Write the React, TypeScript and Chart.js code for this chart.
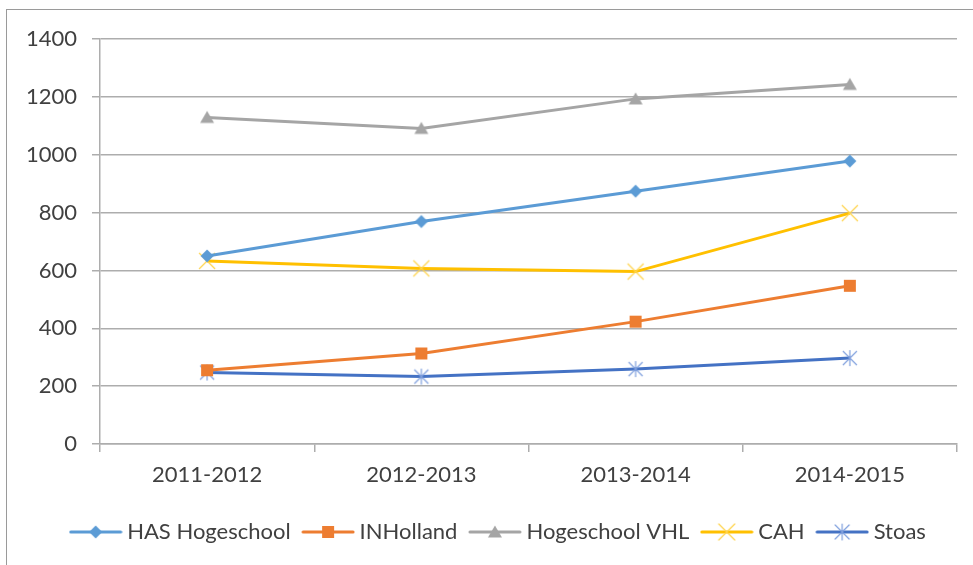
import React, { useEffect, useRef } from 'react';
import { Chart, registerables } from 'chart.js';

Chart.register(...registerables);

const categories = ['2011-2012', '2012-2013', '2013-2014', '2014-2015'];
const seriesNames = ['HAS Hogeschool', 'INHolland', 'Hogeschool VHL', 'CAH', 'Stoas'];
const hasHogeschool = [650, 769, 874, 978];
const inHolland = [255, 313, 423, 547];
const hogeschoolVHL = [1129, 1091, 1193, 1243];
const cah = [633, 607, 596, 798];
const stoas = [247, 233, 259, 297];
const yMin = 0;
const yMax = 1400;
const yStep = 200;

const colors = ['#5B9BD5', '#ED7D31', '#A5A5A5', '#FFC000', '#4472C4'];
const markerColors = ['#5B9BD5', '#ED7D31', '#A5A5A5', '#FFD44D', '#7F9FDD'];
const markers = ['diamond', 'square', 'triangle', 'cross', 'star'];

function drawMarker(ctx: CanvasRenderingContext2D, kind: string, cx: number, cy: number, color: string) {
  ctx.save();
  ctx.fillStyle = color;
  ctx.strokeStyle = color;
  ctx.beginPath();
  if (kind === 'diamond') {
    const r = 6.5;
    ctx.moveTo(cx, cy - r);
    ctx.lineTo(cx + r, cy);
    ctx.lineTo(cx, cy + r);
    ctx.lineTo(cx - r, cy);
    ctx.closePath();
    ctx.fill();
  } else if (kind === 'square') {
    const s = 6;
    ctx.rect(cx - s, cy - s, 2 * s, 2 * s);
    ctx.fill();
  } else if (kind === 'triangle') {
    ctx.moveTo(cx, cy - 6.5);
    ctx.lineTo(cx + 7, cy + 5.5);
    ctx.lineTo(cx - 7, cy + 5.5);
    ctx.closePath();
    ctx.fill();
  } else if (kind === 'cross') {
    const r = 8;
    ctx.lineWidth = 1.2;
    ctx.moveTo(cx - r, cy - r);
    ctx.lineTo(cx + r, cy + r);
    ctx.moveTo(cx + r, cy - r);
    ctx.lineTo(cx - r, cy + r);
    ctx.stroke();
  } else if (kind === 'star') {
    const r = 7;
    ctx.lineWidth = 1.2;
    ctx.moveTo(cx - r, cy - r);
    ctx.lineTo(cx + r, cy + r);
    ctx.moveTo(cx + r, cy - r);
    ctx.lineTo(cx - r, cy + r);
    ctx.moveTo(cx, cy - r - 1);
    ctx.lineTo(cx, cy + r + 1);
    ctx.stroke();
  }
  ctx.restore();
}

function makePointImage(i: number): HTMLCanvasElement {
  const c = document.createElement('canvas');
  c.width = 20;
  c.height = 20;
  const ctx = c.getContext('2d')!;
  drawMarker(ctx, markers[i], 10, 10, markerColors[i]);
  return c;
}

function makeLegendImage(i: number): HTMLCanvasElement {
  const c = document.createElement('canvas');
  c.width = 54;
  c.height = 20;
  const ctx = c.getContext('2d')!;
  ctx.strokeStyle = colors[i];
  ctx.lineWidth = 3;
  ctx.lineCap = 'round';
  ctx.beginPath();
  ctx.moveTo(2, 10);
  ctx.lineTo(52, 10);
  ctx.stroke();
  drawMarker(ctx, markers[i], 27, 10, markerColors[i]);
  return c;
}

const legendShift = {
  id: 'legendShift',
  afterLayout(chart: any) {
    const lg = chart.legend;
    if (lg) {
      lg.left += 12;
      lg.right += 12;
    }
  },
};

export default function App() {
  const ref = useRef<HTMLCanvasElement | null>(null);

  useEffect(() => {
    if (!ref.current) return;
    const values = [hasHogeschool, inHolland, hogeschoolVHL, cah, stoas];
    const pointImages = values.map((_, i) => makePointImage(i));
    const legendImages = values.map((_, i) => makeLegendImage(i));
    const gridColor = '#ADADAD';
    const chart = new Chart(ref.current, {
      type: 'line',
      data: {
        labels: categories,
        datasets: values.map((v, i) => ({
          label: seriesNames[i],
          data: v,
          borderColor: colors[i],
          backgroundColor: colors[i],
          borderWidth: 3,
          tension: 0,
          pointStyle: pointImages[i] as any,
          pointRadius: 7,
        })),
      },
      plugins: [legendShift],
      options: {
        responsive: false,
        animation: false,
        layout: { padding: { left: 20, right: 16, top: 39, bottom: 12 } },
        font: { family: 'Lato', size: 22 },
        plugins: {
          tooltip: { enabled: false },
          legend: {
            position: 'bottom',
            labels: {
              usePointStyle: true,
              pointStyleWidth: 41,
              padding: 17,
              color: '#404040',
              font: { family: 'Lato', size: 22 },
              generateLabels: (ch: any) =>
                ch.data.datasets.map((ds: any, i: number) => ({
                  text: ds.label,
                  pointStyle: legendImages[i],
                  fillStyle: colors[i],
                  strokeStyle: colors[i],
                  lineWidth: 0,
                  hidden: false,
                  datasetIndex: i,
                  fontColor: '#404040',
                })),
            },
          },
        },
        scales: {
          x: {
            type: 'category',
            offset: true,
            grid: {
              offset: true,
              drawOnChartArea: false,
              drawTicks: true,
              tickLength: 8,
              color: gridColor,
              lineWidth: 1.5,
            },
            border: { display: true, color: gridColor, width: 1.5 },
            ticks: {
              color: '#404040',
              font: { family: 'Lato', size: 22 },
              padding: 10,
              maxRotation: 0,
            },
            afterFit: (s: any) => {
              s.height = 60;
            },
          },
          y: {
            min: yMin,
            max: yMax,
            grid: {
              color: gridColor,
              lineWidth: 1.5,
              tickLength: 8,
              drawTicks: true,
            },
            border: { display: true, color: gridColor, width: 1.5 },
            ticks: {
              stepSize: yStep,
              color: '#404040',
              font: { family: 'Lato', size: 22 },
              padding: 15,
              callback: (v: any) => String(v),
            },
            afterFit: (s: any) => {
              s.width = 80;
            },
          },
        },
      } as any,
    });
    return () => chart.destroy();
  }, []);

  return (
    <div style={{ position: 'fixed', left: 0, top: 0, width: 973, height: 565, overflow: 'hidden', background: '#fff' }}>
      <div
        style={{
          position: 'absolute',
          left: 6,
          top: 9,
          width: 1000,
          height: 600,
          borderTop: '1.5px solid #9A9A9A',
          borderLeft: '1.5px solid #9A9A9A',
        }}
      />
      <canvas ref={ref} width={973} height={565} style={{ position: 'absolute', left: 0, top: 0 }} />
    </div>
  );
}
